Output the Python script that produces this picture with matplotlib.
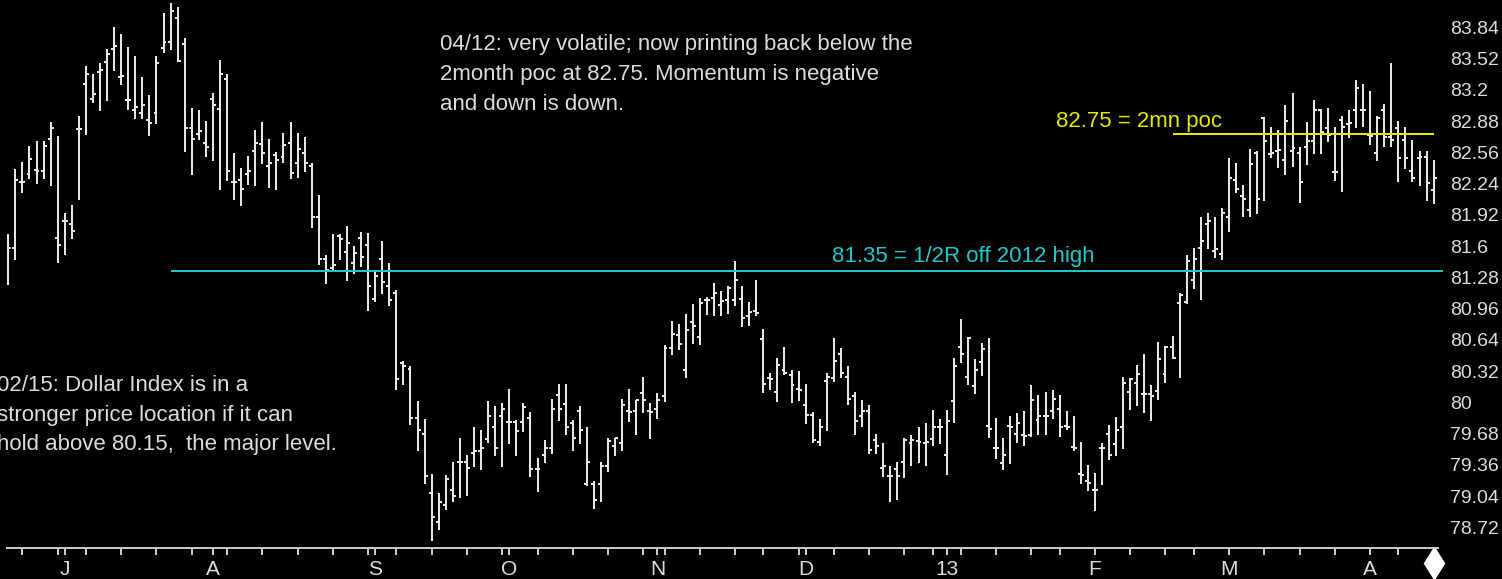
import numpy as np
import pandas as pd
import matplotlib
matplotlib.use("Agg")
import matplotlib.pyplot as plt
from matplotlib.transforms import blended_transform_factory

# Daily U.S. Dollar Index bars, 20 Jun 2012 - 12 Apr 2013
opens = [
    81.43, 81.58, 82.26, 82.34, 82.38, 82.37, 82.70, 81.68, 81.86, 81.83,
    82.80, 83.26, 83.11, 83.38, 83.49, 83.62, 83.33, 83.10, 82.99, 82.96,
    82.89, 82.96, 83.63, 83.69, 83.94, 83.67, 82.81, 82.75, 82.66, 83.11,
    83.00, 83.31, 82.26, 82.28, 82.34, 82.57, 82.65, 82.42, 82.53, 82.51,
    82.66, 82.45, 82.55, 82.42, 81.90, 81.47, 81.38, 81.70, 81.54, 81.43,
    81.68, 81.61, 81.06, 81.47, 81.19, 81.12, 80.40, 80.34, 79.84, 79.68,
    79.07, 78.78, 78.95, 79.10, 79.39, 79.39, 79.48, 79.50, 79.63, 79.75,
    79.86, 79.80, 79.80, 79.80, 79.84, 79.32, 79.46, 79.53, 80.08, 79.98,
    79.79, 79.91, 79.17, 79.17, 79.17, 79.35, 79.55, 79.58, 79.91, 79.91,
    80.10, 79.91, 79.93, 80.07, 80.56, 80.69, 80.33, 80.82, 80.67, 81.05,
    81.07, 81.00, 81.05, 81.05, 81.06, 80.89, 80.94, 80.65, 80.25, 80.11,
    80.33, 80.28, 80.14, 79.97, 79.87, 79.60, 80.22, 80.25, 80.50, 80.26,
    80.07, 79.86, 79.91, 79.62, 79.33, 79.25, 79.32, 79.39, 79.58, 79.61,
    79.58, 79.63, 79.75, 79.46, 80.01, 80.57, 80.26, 80.17, 80.41, 79.76,
    79.53, 79.38, 79.76, 79.68, 79.67, 79.67, 79.82, 79.86, 79.91, 79.93,
    79.76, 79.54, 79.27, 79.20, 79.10, 79.53, 79.68, 79.57, 79.75, 80.11,
    80.20, 80.09, 80.09, 80.12, 80.29, 80.57, 81.02, 81.03, 81.25, 81.58,
    81.83, 81.55, 81.52, 81.90, 82.28, 82.11, 81.97, 82.55, 82.91, 82.54,
    82.57, 82.48, 82.57, 82.55, 82.62, 82.68, 82.99, 82.81, 82.36, 82.89,
    82.85, 82.99, 82.99, 82.74, 82.55, 82.99, 82.72, 82.81, 82.69, 82.37,
    82.50, 82.51, 82.17,
]
highs = [
    81.72, 82.39, 82.46, 82.63, 82.68, 82.68, 82.87, 82.73, 81.94, 82.02,
    82.93, 83.44, 83.36, 83.48, 83.62, 83.84, 83.77, 83.64, 83.55, 83.33,
    83.15, 83.55, 83.99, 84.09, 84.05, 83.73, 83.01, 82.99, 82.88, 83.17,
    83.51, 83.36, 82.55, 82.40, 82.52, 82.79, 82.87, 82.70, 82.56, 82.76,
    82.87, 82.76, 82.72, 82.45, 82.12, 81.51, 81.72, 81.72, 81.81, 81.60,
    81.74, 81.73, 81.35, 81.65, 81.43, 81.15, 80.42, 80.37, 80.01, 79.83,
    79.27, 79.07, 79.26, 79.39, 79.64, 79.46, 79.75, 79.72, 80.01, 79.96,
    79.99, 80.14, 79.82, 79.99, 79.90, 79.43, 79.62, 80.04, 80.19, 80.19,
    79.82, 79.96, 79.75, 79.20, 79.39, 79.64, 79.64, 80.04, 80.14, 80.03,
    80.26, 79.99, 80.10, 80.59, 80.83, 80.80, 80.91, 81.01, 81.07, 81.08,
    81.22, 81.14, 81.19, 81.45, 81.19, 81.03, 81.25, 80.75, 80.30, 80.46,
    80.57, 80.33, 80.32, 80.19, 79.90, 79.83, 80.30, 80.66, 80.56, 80.37,
    80.11, 80.03, 79.97, 79.68, 79.59, 79.35, 79.39, 79.64, 79.67, 79.75,
    79.79, 79.92, 79.83, 79.92, 80.45, 80.85, 80.67, 80.44, 80.61, 80.66,
    79.84, 79.64, 79.86, 79.89, 79.91, 80.18, 80.08, 80.11, 80.13, 80.08,
    79.91, 79.86, 79.60, 79.36, 79.28, 79.58, 79.77, 79.85, 80.26, 80.25,
    80.38, 80.50, 80.18, 80.62, 80.58, 80.68, 81.12, 81.51, 81.58, 81.90,
    81.94, 81.90, 81.99, 82.50, 82.45, 82.23, 82.59, 82.57, 82.92, 82.82,
    82.79, 83.05, 83.17, 82.62, 82.87, 83.10, 83.00, 83.01, 82.82, 82.93,
    82.99, 83.30, 83.26, 83.19, 82.93, 83.06, 83.48, 82.88, 82.82, 82.69,
    82.57, 82.57, 82.48,
]
lows = [
    81.20, 81.46, 82.14, 82.29, 82.24, 82.29, 82.22, 81.43, 81.51, 81.67,
    82.07, 82.74, 83.07, 82.98, 83.09, 83.39, 83.25, 82.99, 82.90, 82.90,
    82.73, 82.85, 83.58, 83.61, 83.49, 82.56, 82.33, 82.69, 82.51, 82.47,
    82.18, 82.27, 82.07, 82.01, 82.23, 82.22, 82.44, 82.20, 82.18, 82.45,
    82.29, 82.30, 82.36, 81.79, 81.41, 81.21, 81.36, 81.46, 81.24, 81.32,
    81.39, 80.94, 81.03, 81.11, 80.99, 80.13, 80.18, 79.77, 79.50, 79.17,
    78.58, 78.69, 78.90, 78.98, 79.02, 79.04, 79.34, 79.31, 79.58, 79.45,
    79.34, 79.57, 79.45, 79.70, 79.24, 79.08, 79.38, 79.47, 79.81, 79.67,
    79.50, 79.57, 79.14, 78.91, 78.98, 79.29, 79.45, 79.50, 79.80, 79.67,
    79.89, 79.63, 79.83, 80.00, 80.49, 80.54, 80.25, 80.60, 80.59, 80.90,
    80.88, 80.88, 80.91, 80.99, 80.77, 80.78, 80.88, 80.10, 80.13, 80.00,
    80.28, 79.99, 80.01, 79.78, 79.58, 79.55, 79.71, 80.21, 80.25, 79.97,
    79.67, 79.75, 79.47, 79.47, 79.24, 78.98, 79.00, 79.23, 79.35, 79.38,
    79.35, 79.55, 79.57, 79.26, 79.79, 80.40, 80.18, 80.09, 80.27, 79.64,
    79.42, 79.31, 79.37, 79.58, 79.55, 79.65, 79.67, 79.67, 79.83, 79.65,
    79.72, 79.50, 79.17, 79.09, 78.89, 79.16, 79.41, 79.45, 79.52, 79.92,
    79.96, 79.89, 79.81, 80.03, 80.20, 80.44, 80.25, 81.01, 81.16, 81.05,
    81.57, 81.48, 81.46, 81.75, 82.14, 81.90, 81.90, 81.93, 82.06, 82.50,
    82.40, 82.33, 82.41, 82.04, 82.43, 82.54, 82.54, 82.67, 82.27, 82.15,
    82.71, 82.81, 82.82, 82.64, 82.47, 82.62, 82.62, 82.26, 82.39, 82.26,
    82.22, 82.06, 82.03,
]
closes = [
    81.58, 82.28, 82.26, 82.49, 82.37, 82.63, 82.81, 81.61, 81.86, 81.76,
    82.80, 83.36, 83.16, 83.40, 83.57, 83.65, 83.34, 83.10, 83.02, 83.05,
    82.86, 83.47, 83.69, 84.01, 83.50, 82.81, 82.70, 82.78, 82.62, 83.04,
    83.36, 82.37, 82.26, 82.19, 82.37, 82.66, 82.55, 82.45, 82.48, 82.64,
    82.35, 82.59, 82.45, 81.90, 81.47, 81.36, 81.41, 81.67, 81.63, 81.53,
    81.49, 81.19, 81.29, 81.23, 81.05, 80.24, 80.37, 79.84, 79.72, 79.25,
    78.83, 78.98, 79.22, 79.04, 79.39, 79.33, 79.50, 79.53, 79.86, 79.53,
    79.93, 79.80, 79.71, 79.95, 79.32, 79.32, 79.53, 79.93, 79.93, 79.75,
    79.64, 79.72, 79.39, 79.00, 79.35, 79.61, 79.64, 79.97, 79.90, 80.03,
    80.03, 79.90, 80.03, 80.56, 80.70, 80.60, 80.74, 80.78, 81.02, 81.05,
    81.12, 81.04, 81.17, 81.25, 80.86, 80.93, 80.92, 80.19, 80.24, 80.38,
    80.30, 80.18, 80.13, 79.87, 79.62, 79.75, 80.26, 80.42, 80.30, 80.04,
    79.81, 79.91, 79.51, 79.55, 79.35, 79.25, 79.25, 79.62, 79.62, 79.60,
    79.60, 79.75, 79.75, 79.81, 80.37, 80.50, 80.66, 80.33, 80.55, 79.73,
    79.53, 79.46, 79.75, 79.79, 79.66, 80.03, 79.86, 79.86, 80.04, 79.75,
    79.75, 79.53, 79.26, 79.18, 79.10, 79.53, 79.46, 79.72, 80.20, 80.24,
    80.29, 80.09, 80.07, 80.44, 80.57, 80.45, 81.10, 81.45, 81.47, 81.65,
    81.86, 81.57, 81.94, 82.30, 82.19, 82.08, 82.44, 82.08, 82.68, 82.55,
    82.58, 82.88, 82.60, 82.26, 82.68, 82.99, 82.77, 82.74, 82.36, 82.82,
    82.86, 83.22, 82.99, 82.73, 82.91, 82.72, 82.69, 82.50, 82.50, 82.30,
    82.51, 82.25, 82.30,
]

# Exchange holidays inside the period
holidays = [
    "2012-07-04", "2012-09-03", "2012-10-29", "2012-10-30", "2012-11-22",
    "2012-12-25", "2013-01-01", "2013-01-21", "2013-02-18", "2013-03-29",
]
dates = pd.bdate_range("2012-06-20", "2013-04-12", freq="C", holidays=holidays)

# Horizontal reference levels
half_retrace = 81.35
half_retrace_label = "81.35 = 1/2R off 2012 high"
half_retrace_start = 23
poc_level = 82.75
poc_label = "82.75 = 2mn poc"
poc_start = 165

price_ticks = [78.72, 79.04, 79.36, 79.68, 80.00, 80.32, 80.64, 80.96, 81.28,
               81.60, 81.92, 82.24, 82.56, 82.88, 83.20, 83.52, 83.84]

note_recent = ("04/12: very volatile; now printing back below the\n"
               "2month poc at 82.75. Momentum is negative\n"
               "and down is down.")
note_older = ("02/15: Dollar Index is in a\n"
              "stronger price location if it can\n"
              "hold above 80.15,  the major level.")

BAR = "#e6e6e6"
TEXT = "#dcdcdc"
AXIS = "#c8c8c8"
CYAN = "#1fc8c8"
YELLOW = "#e6e600"
FONT = "Liberation Sans"
NOTE_SIZE = 16

x = np.arange(len(dates))
opens, highs, lows, closes = map(np.asarray, (opens, highs, lows, closes))

W, H = 1502, 579
fig = plt.figure(figsize=(W / 100, H / 100), dpi=100, facecolor="black")
ax = fig.add_axes([7 / W, 31 / H, 1431 / W, 548 / H])
ax.set_facecolor("black")
ax.set_xlim(-0.184, 202.62)
ax.set_ylim(78.51, 84.12)

px = 0.72  # one pixel in points
tick = 0.42
kw = dict(colors=BAR, linewidth=2 * px, capstyle="butt", antialiased=False)
ax.vlines(x, lows, highs, **kw)
ax.hlines(opens, x - tick, x, **kw)
ax.hlines(closes, x, x + tick, **kw)

# Reference levels
ax.hlines(half_retrace, half_retrace_start, x[-1] + 1.3, colors=CYAN,
          linewidth=2 * px, clip_on=False)
ax.hlines(poc_level, poc_start, x[-1], colors=YELLOW, linewidth=2 * px)
ax.text(116.7, 81.49, half_retrace_label, color=CYAN, fontsize=NOTE_SIZE,
        family=FONT, va="center", ha="left")
ax.text(148.5, 82.88, poc_label, color=YELLOW, fontsize=NOTE_SIZE,
        family=FONT, va="center", ha="left")

# Commentary
ax.text(61.2, 83.355, note_recent, color=TEXT, fontsize=NOTE_SIZE, family=FONT,
        va="center", ha="left", linespacing=1.55)
ax.text(-1.6, 79.87, note_older, color=TEXT, fontsize=NOTE_SIZE, family=FONT,
        va="center", ha="left", linespacing=1.55, clip_on=False)

# Time axis: month starts labelled, Fridays as minor ticks
month_start = [i for i in range(1, len(dates)) if dates[i].month != dates[i - 1].month]
month_lbl = [("%02d" % (dates[i].year % 100)) if dates[i].month == 1
             else dates[i].strftime("%b")[0] for i in month_start]
fridays = [i for i in range(len(dates)) if dates[i].weekday() == 4]
ax.set_xticks(month_start)
ax.set_xticklabels(month_lbl)
ax.set_xticks(fridays, minor=True)
ax.tick_params(axis="x", which="both", direction="out", length=7 * px,
               width=2 * px, color=AXIS, labelcolor=TEXT, labelsize=15, pad=3.5)
for lab in ax.get_xticklabels():
    lab.set_family(FONT)

# Price axis on the right
ax.yaxis.tick_right()
ax.set_yticks(price_ticks)
ax.set_yticklabels([("%.2f" % v).rstrip("0").rstrip(".") for v in price_ticks])
ax.tick_params(axis="y", length=0, pad=12 * px, labelcolor=TEXT, labelsize=14)
for lab in ax.get_yticklabels():
    lab.set_family(FONT)

for side in ("top", "left", "right"):
    ax.spines[side].set_visible(False)
ax.spines["bottom"].set_color(AXIS)
ax.spines["bottom"].set_linewidth(2 * px)

# Current-bar marker under the time axis
ax.plot([x[-1]], [-0.028], marker="d", markersize=16.5, color="white",
        transform=blended_transform_factory(ax.transData, ax.transAxes),
        clip_on=False)

fig.savefig("out.png", dpi=100, facecolor="black")
